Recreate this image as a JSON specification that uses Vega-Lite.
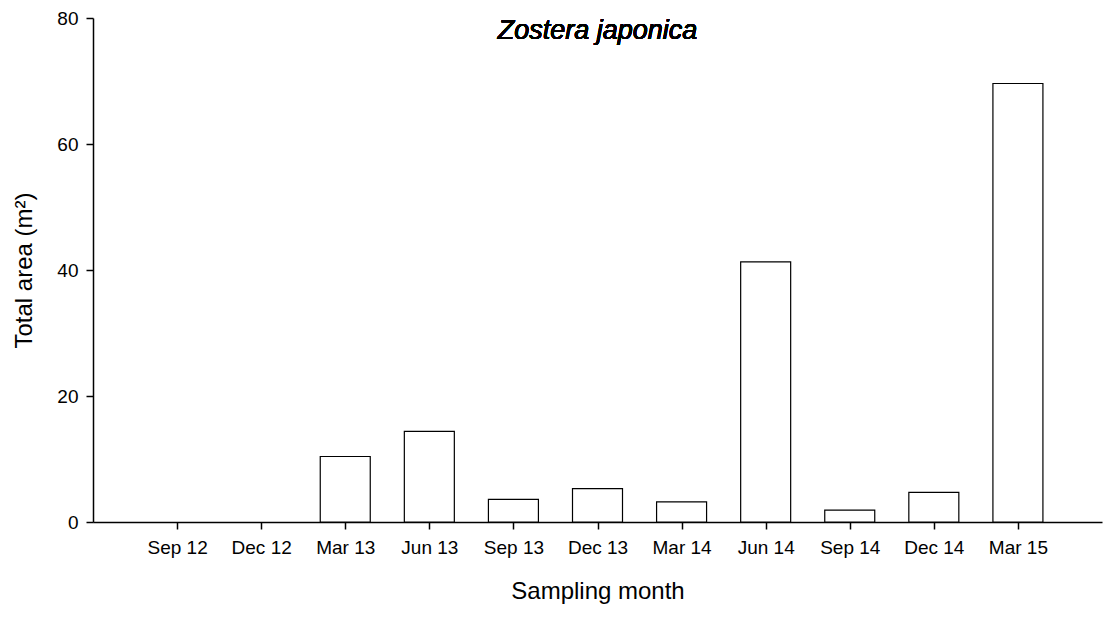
{
  "$schema": "https://vega.github.io/schema/vega-lite/v6.json",
  "width": 1009,
  "height": 504,
  "autosize": {"type": "none"},
  "padding": {"left": 93, "top": 18, "right": 2, "bottom": 97},
  "background": "white",
  "config": {
    "view": {"stroke": null},
    "font": "Liberation Sans",
    "axis": {
      "grid": false,
      "zindex": 1,
      "domainColor": "black",
      "domainWidth": 1.5,
      "tickColor": "black",
      "tickWidth": 1.5,
      "tickSize": 7,
      "labelColor": "black",
      "labelFont": "Liberation Sans",
      "labelFontSize": 19,
      "titleFont": "Liberation Sans",
      "titleFontSize": 24,
      "titleFontWeight": "normal",
      "titleColor": "black"
    }
  },
  "data": {
    "values": [
      {"month": "Sep 12", "area": 0},
      {"month": "Dec 12", "area": 0},
      {"month": "Mar 13", "area": 10.4},
      {"month": "Jun 13", "area": 14.4},
      {"month": "Sep 13", "area": 3.6},
      {"month": "Dec 13", "area": 5.3},
      {"month": "Mar 14", "area": 3.2},
      {"month": "Jun 14", "area": 41.3},
      {"month": "Sep 14", "area": 1.9},
      {"month": "Dec 14", "area": 4.7},
      {"month": "Mar 15", "area": 69.6}
    ]
  },
  "layer": [
    {
      "transform": [{"filter": "datum.area > 0"}],
      "mark": {"type": "bar", "width": 50, "fill": "white", "stroke": "black", "strokeWidth": 1.2},
      "encoding": {
        "x": {
          "field": "month",
          "type": "ordinal",
          "sort": null,
          "scale": {"type": "point", "padding": 1, "domain": ["Sep 12", "Dec 12", "Mar 13", "Jun 13", "Sep 13", "Dec 13", "Mar 14", "Jun 14", "Sep 14", "Dec 14", "Mar 15"]},
          "axis": {"labelAngle": 0, "labelPadding": 9, "title": "Sampling month", "titlePadding": 22}
        },
        "y": {
          "field": "area",
          "type": "quantitative",
          "scale": {"domain": [0, 80], "nice": false},
          "axis": {"values": [0, 20, 40, 60, 80], "labelPadding": 8, "title": "Total area (m²)", "titlePadding": 20}
        }
      }
    },
    {
      "mark": {"type": "text", "text": "Zostera japonica", "fontStyle": "italic", "fontSize": 27, "font": "Liberation Sans", "baseline": "middle", "align": "center", "fill": "black", "stroke": null},
      "encoding": {
        "x": {"datum": "Dec 13", "type": "ordinal"},
        "y": {"datum": 78, "type": "quantitative"}
      }
    }
  ]
}
